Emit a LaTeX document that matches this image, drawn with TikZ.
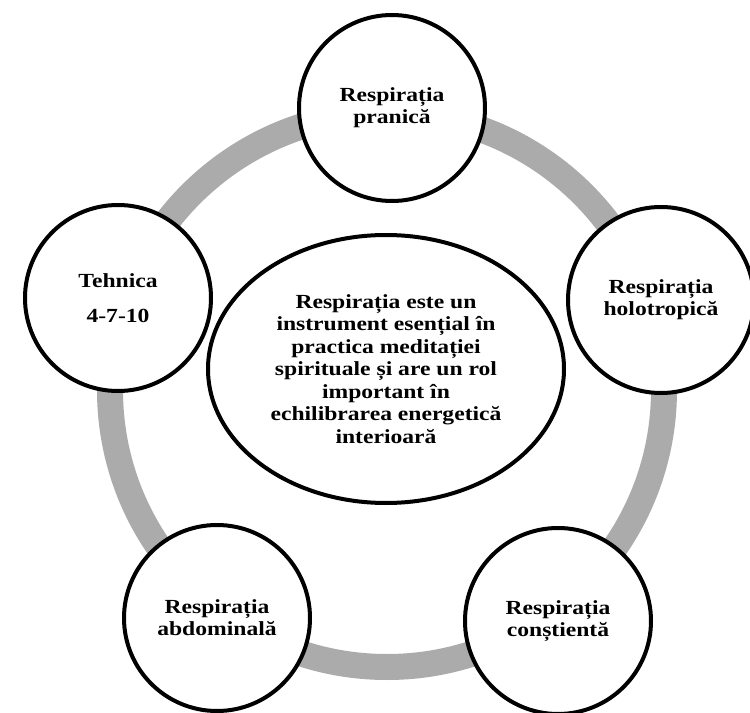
\documentclass[tikz,border=0pt]{standalone}
\usepackage{fontspec}
\setmainfont[FakeStretch=1.18]{Liberation Serif}
\usetikzlibrary{positioning, shapes.geometric}

\begin{document}
\begin{tikzpicture}[x=0.75pt,y=-0.75pt,
  bubble/.style={draw,circle,line width=3pt,fill=white,minimum size=139.5pt,
    inner sep=0pt,align=center,font=\bfseries\fontsize{15pt}{16.5pt}\selectfont},
  core/.style={draw,ellipse,line width=3pt,fill=white,minimum width=267pt,
    minimum height=201pt,inner sep=0pt,align=center,
    font=\bfseries\fontsize{15pt}{16.9pt}\selectfont},
  ring/.style={gray!66,line width=19.5pt}]
  \clip (0,0) rectangle (750,713);
  \coordinate (hub) at (387,390);
  \draw[ring] (hub) circle (277);
  % the five practices
  \node[bubble](pranica) at (392,108){Respirația\\pranică};
  \node[bubble](holo) at (661,300){Respirația\\holotropică};
  \node[bubble](tehnica) at (118,298){Tehnica\\[10pt]4-7-10};
  \node[bubble](abdo) at (217,618){Respirația\\abdominală};
  \node[bubble](constient) at (558,621){Respirația\\conștientă};
  % middle statement
  \node[core](idee) at (386,369){Respirația este un\\instrument esențial în\\
    practica meditației\\spirituale și are un rol\\important în\\
    echilibrarea energetică\\interioară};
\end{tikzpicture}
\end{document}
